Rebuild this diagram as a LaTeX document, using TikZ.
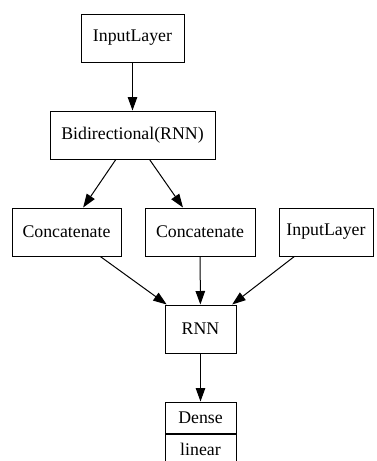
\documentclass[tikz,border=0pt]{standalone}
\usepackage{fontspec}
\setmainfont{Liberation Serif}
\usetikzlibrary{arrows.meta}
\begin{document}
\begin{tikzpicture}[x=1pt,y=-1pt,
  layer/.style={draw, line width=1pt, minimum height=48pt, inner sep=0pt, font=\fontsize{17.8}{20}\selectfont},
  link/.style={draw, line width=1pt, -{Triangle[length=13.5pt,width=9.5pt]}}]
  \useasboundingbox (0,0) rectangle (376,461);
  \clip (0,0) rectangle (376,461);
  \node[layer, minimum width=103pt] (in1) at (132.5,38) {InputLayer};
  \node[layer, minimum width=165pt] (bid) at (132.5,135) {Bidirectional(RNN)};
  \node[layer, minimum width=109pt] (c1) at (66.5,232) {Concatenate};
  \node[layer, minimum width=110pt] (c2) at (200,232) {Concatenate};
  \node[layer, minimum width=94pt] (in2) at (326,232) {InputLayer};
  \node[layer, minimum width=71pt] (rnn) at (200.5,329) {RNN};
  \node[layer, minimum width=71pt, minimum height=31pt] (dense) at (200.5,417.5) {Dense};
  \node[layer, minimum width=71pt, minimum height=31pt, anchor=north] (lin) at (dense.south) {linear};
  \draw[link] (in1) -- (bid);
  \draw[link] (bid) -- (c1);
  \draw[link] (bid) -- (c2);
  \draw[link] (c1) -- (rnn);
  \draw[link] (c2) -- (rnn);
  \draw[link] (in2) -- (rnn);
  \draw[link] (rnn) -- (dense);
\end{tikzpicture}
\end{document}
